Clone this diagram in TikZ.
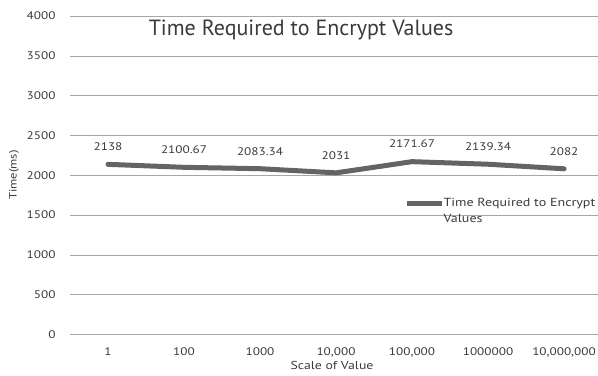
\documentclass[tikz,border=0pt]{standalone}
\usepackage{fontspec}
\setmainfont{PT Sans}
\newfontfamily\widesans[FakeStretch=1.2]{PT Sans}
\definecolor{gridgray}{HTML}{A6A6A6}
\definecolor{seriesgray}{HTML}{646464}
\definecolor{textgray}{HTML}{3A3A3A}
\tikzset{
	ticklabel/.style={font=\widesans\fontsize{11}{13}\selectfont,text=textgray},
	datalabel/.style={font=\widesans\fontsize{11}{13}\selectfont,text=textgray,above=10pt},
	series/.style={seriesgray,line width=5pt,line cap=round,line join=round}
}
\begin{document}
\begin{tikzpicture}[x=76pt,y=0.0796pt,font=\fontsize{11}{13}\selectfont,text=textgray]
	\useasboundingbox (-0.421,-508.8) rectangle (7.447,4202.3);

	%grid and y labels
	\foreach \v in {0,500,...,4000}{
		\draw[gridgray,line width=0.8pt] (0.5,\v) -- (7.447,\v);
		\node[ticklabel,anchor=east] (y\v) at (0.355,\v) {\v};
	}

	%x labels
	\foreach \lab [count=\i] in {1,100,1000,{10,000},{100,000},1000000,{10,000,000}}
		\node[ticklabel] (x\i) at (\i,-220) {\lab};

	%data points
	\coordinate (p1) at (1,2138);
	\coordinate (p2) at (2,2100.67);
	\coordinate (p3) at (3,2083.34);
	\coordinate (p4) at (4,2031);
	\coordinate (p5) at (5,2171.67);
	\coordinate (p6) at (6,2139.34);
	\coordinate (p7) at (7,2082);

	%graph
	\draw[series] (p1) -- (p2) -- (p3) -- (p4) -- (p5) -- (p6) -- (p7);

	%data labels
	\node[datalabel] (d1) at (p1) {2138};
	\node[datalabel] (d2) at (p2) {2100.67};
	\node[datalabel] (d3) at (p3) {2083.34};
	\node[datalabel] (d4) at (p4) {2031};
	\node[datalabel] (d5) at (p5) {2171.67};
	\node[datalabel] (d6) at (p6) {2139.34};
	\node[datalabel] (d7) at (p7) {2082};

	%titles
	\node[font=\fontsize{22}{26}\selectfont] (title) at (3.54,3825) {Time Required to Encrypt Values};
	\node[rotate=90,font=\widesans\fontsize{10.5}{12}\selectfont] (ytitle) at (-0.237,2004) {Time(ms)};
	\node[font=\widesans\fontsize{11.5}{13}\selectfont] (xtitle) at (3.947,-383) {Scale of Value};

	%legend
	\node[anchor=west,align=left,inner sep=1pt,font=\widesans\fontsize{11.7}{16}\selectfont] (legtext) at (5.40,1564) {Time Required to Encrypt\\Values};
	\coordinate (leg) at (4.934,1652);
	\draw[series,line cap=butt] (leg) -- (legtext.west |- leg);
\end{tikzpicture}
\end{document}
